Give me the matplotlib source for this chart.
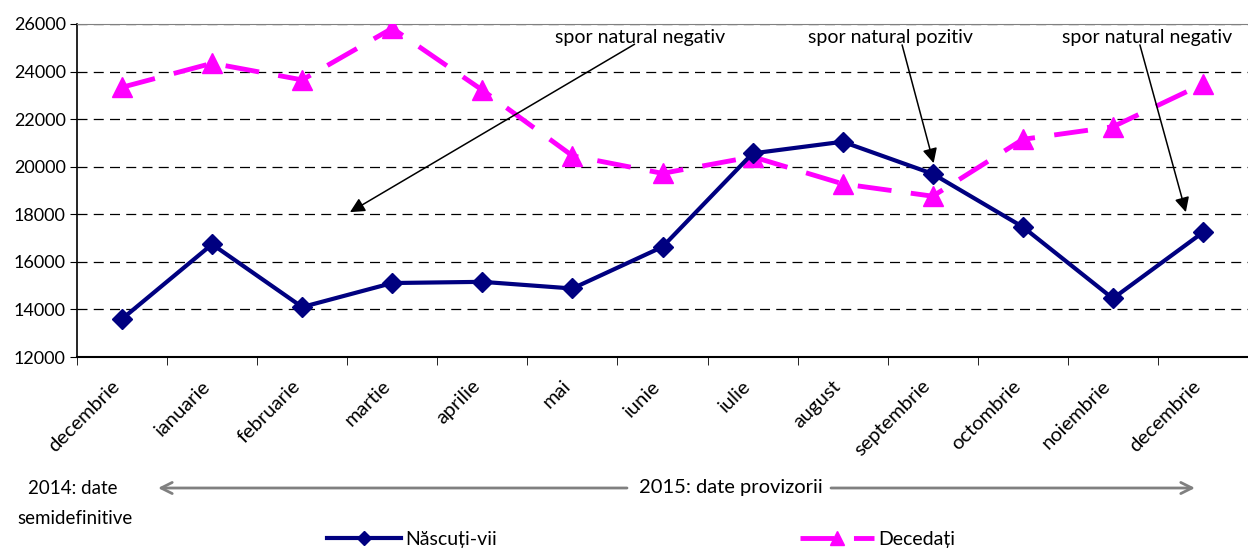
import matplotlib
matplotlib.use("Agg")
from matplotlib import pyplot as plt
from matplotlib.patches import FancyArrowPatch
from matplotlib.transforms import ScaledTranslation

plt.rcParams['font.family'] = ['Lato', 'DejaVu Sans']

luni = ["decembrie", "ianuarie", "februarie", "martie", "aprilie", "mai", "iunie",
        "iulie", "august", "septembrie", "octombrie", "noiembrie", "decembrie"]
nascuti = [13600, 16740, 14100, 15110, 15160, 14880, 16630,
           20560, 21050, 19700, 17470, 14460, 17240]
decedati = [23340, 24350, 23650, 25820, 23220, 20460, 19720,
            20420, 19280, 18760, 21150, 21680, 23480]
y_ticks = [12000, 14000, 16000, 18000, 20000, 22000, 24000, 26000]

# (text, text x, arrow start x, arrow start y, arrow tip x, arrow tip y) in data units
adnotari = [
    ("spor natural negativ", 5.75, 5.69, 25150, 2.53, 18090),
    ("spor natural pozitiv", 8.53, 8.66, 25120, 9.01, 20150),
    ("spor natural negativ", 11.38, 11.30, 25120, 11.81, 18090),
]

fig = plt.figure(figsize=(12.48, 5.5), dpi=100)
ax = fig.add_axes([77 / 1248, 1 - 357 / 550, 1 - 77 / 1248, (357 - 24) / 550])

x = list(range(len(luni)))
l1, = ax.plot(x, nascuti, color="#000080", lw=3, marker="D", ms=10,
              label="Născuți-vii", zorder=4)
l2, = ax.plot(x, decedati, color="#FF00FF", lw=3.5, dashes=(7, 4), marker="^",
              ms=14, label="Decedați", zorder=3)

ax.set_xlim(-0.5, (1248 - 122) / 91)
ax.set_ylim(12000, 26000)
ax.set_yticks(y_ticks)
ax.tick_params(axis="y", labelsize=13, length=5, direction="out", pad=3)
ax.yaxis.grid(True, color="black", ls=(0, (8, 5)), lw=0.9)
ax.set_axisbelow(True)

ax.set_xticks(x)
ax.set_xticklabels(luni, rotation=45, ha="right", va="center",
                   rotation_mode="anchor", fontsize=14.5)
ax.tick_params(axis="x", which="major", length=0, pad=19)
ax.set_xticks([i - 0.5 for i in range(len(luni) + 1)], minor=True)
ax.tick_params(axis="x", which="minor", length=6, direction="out")
shift = ScaledTranslation(-5 / 100, 0, fig.dpi_scale_trans)
for lbl in ax.get_xticklabels():
    lbl.set_transform(lbl.get_transform() + shift)

ax.spines["right"].set_visible(False)
ax.spines["top"].set_color("#808080")
ax.spines["left"].set_linewidth(1.2)
ax.spines["bottom"].set_linewidth(1.5)

for text, txt_x, sx, sy, hx, hy in adnotari:
    ax.annotate("", xy=(hx, hy), xytext=(sx, sy),
                arrowprops=dict(arrowstyle="-|>", color="black", lw=1.1,
                                mutation_scale=22, shrinkA=0, shrinkB=0))
    ax.text(txt_x, 25450, text, ha="center", va="center", fontsize=14)

# perioade sub axa
fig.text(73 / 1248, 1 - 488 / 550, "2014: date", ha="center", va="center", fontsize=13.5)
fig.text(75 / 1248, 1 - 518 / 550, "semidefinitive", ha="center", va="center", fontsize=13.5)
fig.text(731 / 1248, 1 - 488 / 550, "2015: date provizorii", ha="center", va="center", fontsize=14.5)
gri = dict(arrowstyle="->", color="#808080", lw=2, mutation_scale=20, shrinkA=0, shrinkB=0)
fig.add_artist(FancyArrowPatch((627 / 1248, 1 - 488 / 550), (158 / 1248, 1 - 488 / 550),
                               transform=fig.transFigure, **gri))
fig.add_artist(FancyArrowPatch((831 / 1248, 1 - 488 / 550), (1195 / 1248, 1 - 488 / 550),
                               transform=fig.transFigure, **gri))

fig.legend(handles=[l1, l2], loc="center", bbox_to_anchor=(641 / 1248, 1 - 539 / 550),
           ncol=2, frameon=False, fontsize=14, handlelength=3.8, handletextpad=0.2,
           columnspacing=15.6, borderpad=0, markerscale=0.75)

fig.savefig("out.png", dpi=100)
